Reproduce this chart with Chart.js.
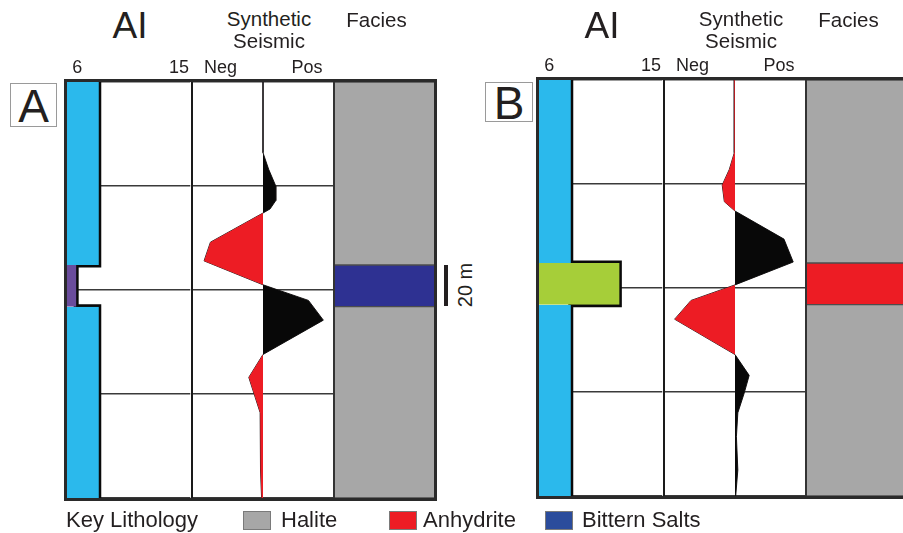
<!DOCTYPE html>
<html>
<head>
<meta charset="utf-8">
<title>AI, synthetic seismic and facies</title>
<script src="https://cdn.jsdelivr.net/npm/chart.js@4.4.1/dist/chart.umd.min.js"></script>
<style>
  html, body { margin: 0; padding: 0; background: #fff; }
  body { width: 903px; height: 533px; position: relative; overflow: hidden;
         font-family: 'Liberation Sans', Arial, sans-serif; color: #231f20; }
  canvas { position: absolute; }
  .frame { position: absolute; box-sizing: border-box; border: 3px solid #2a2a2a; }
  .divider { position: absolute; width: 2px; background: #1a1a1a; }
  .head { position: absolute; line-height: 1; white-space: nowrap; transform: translateX(-50%); text-align: center; }
  .tag { position: absolute; box-sizing: border-box; border: 1px solid #9a9a9a; text-align: center; font-size: 46px; }
  .key { position: absolute; top: 509px; font-size: 22px; line-height: 1; white-space: nowrap; }
  .swatch { position: absolute; top: 511px; width: 28px; height: 19px; box-sizing: border-box; border: 1px solid #7a7a7a; }
</style>
</head>
<body>
<script>
// depth axis (m), tick labels
const depthTicks = [0, 50, 100, 150, 200];
const aiTicks = [6, 15];
const seisTicks = [-0.6, 0.62];
const seisTickLabels = ['Neg', 'Pos'];

// panel A: halite with a bittern salt bed
const layersA = ['Halite', 'Bittern Salts', 'Halite'];
const layerTopA = [0, 88, 108];
const layerBaseA = [88, 108, 200];
const layerAIA = [7.9, 5.9, 7.9];
const seisDepthA = [0, 34, 42, 50, 57, 61, 63, 77, 86, 97.5, 105, 114.5, 131, 142, 159, 170.5, 186.5, 200];
const seisAmpA = [0, 0, 0.08, 0.18, 0.18, 0.1, 0, -0.74, -0.83, 0, 0.64, 0.85, 0, -0.2, -0.04, -0.03, -0.04, -0.02];

// panel B: halite with an anhydrite bed
const layersB = ['Halite', 'Anhydrite', 'Halite'];
const layerTopB = [0, 88, 108];
const layerBaseB = [88, 108, 200];
const layerAIB = [7.9, 12.2, 7.9];
const seisDepthB = [0, 35, 43, 50.5, 58.5, 63, 76.5, 87.5, 98.5, 106, 115, 132, 142, 150.5, 160, 171.5, 187.5, 200];
const seisAmpB = [-0.01, -0.01, -0.08, -0.18, -0.15, 0, 0.69, 0.82, 0, -0.62, -0.85, 0, 0.2, 0.13, 0.04, 0.02, 0.04, 0.01];

const legendItems = ['Halite', 'Anhydrite', 'Bittern Salts'];

// colours
const faciesColors = { 'Halite': '#a7a7a7', 'Anhydrite': '#ed1c24', 'Bittern Salts': '#2e3192' };
const legendColors = { 'Halite': '#a7a7a7', 'Anhydrite': '#ed1c24', 'Bittern Salts': '#2b4c9c' };
const aiFillColors = { 'Halite': '#2bb9ec', 'Anhydrite': '#a6ce39', 'Bittern Salts': '#6a4c9c' };

Chart.defaults.font.family = "'Liberation Sans', Arial, sans-serif";
Chart.defaults.color = '#231f20';
Chart.defaults.animation = false;

const AI_W = 126, SEIS_W = 142, FAC_W = 101, AXIS_H = 31;

const panels = [
  { key: 'A', left: 66, top: 82, height: 416, layers: layersA, tops: layerTopA, bases: layerBaseA, ai: layerAIA, depth: seisDepthA, amp: seisAmpA },
  { key: 'B', left: 538, top: 80, height: 416, layers: layersB, tops: layerTopB, bases: layerBaseB, ai: layerAIB, depth: seisDepthB, amp: seisAmpB }
];

function addEl(tag, cls, css, text) {
  const el = document.createElement(tag);
  if (cls) el.className = cls;
  Object.assign(el.style, css);
  if (text) el.textContent = text;
  document.body.appendChild(el);
  return el;
}

function makeCanvas(left, top, w, h) {
  const c = addEl('canvas', null, { left: left + 'px', top: top + 'px' });
  c.width = w;
  c.height = h;
  return c;
}

function depthAxis(showGrid) {
  return {
    type: 'linear', reverse: true, min: 0, max: 200,
    afterBuildTicks: s => { s.ticks = depthTicks.map(v => ({ value: v })); },
    ticks: { display: false },
    grid: { display: showGrid, color: '#3a3a3a', lineWidth: 1.5, drawTicks: false },
    border: { display: false },
    afterFit: s => { s.width = 0; }
  };
}

function topAxis(min, max, ticks, labels) {
  return {
    type: 'linear', position: 'top', min: min, max: max,
    afterBuildTicks: s => { s.ticks = ticks.map(v => ({ value: v })); },
    ticks: { font: { size: 18 }, padding: 3, autoSkip: false, maxRotation: 0, minRotation: 0,
             callback: (v, i) => labels[i] },
    grid: { display: false, drawTicks: false },
    border: { display: false },
    afterFit: s => { s.height = AXIS_H; }
  };
}

const baseOpts = {
  responsive: false,
  maintainAspectRatio: false,
  devicePixelRatio: 1,
  layout: { padding: 0 },
  plugins: { legend: { display: false }, tooltip: { enabled: false } },
  elements: { point: { radius: 0 } }
};

panels.forEach(p => {
  // AI track: fills coloured by lithology plus the stepped log
  const aiSets = p.layers.map((lith, i) => ({
    data: [{ x: p.ai[i], y: p.tops[i] }, { x: p.ai[i], y: p.bases[i] }],
    fill: 'origin',
    backgroundColor: aiFillColors[lith],
    borderColor: 'transparent',
    borderWidth: 1
  }));
  const logPts = [];
  p.layers.forEach((lith, i) => {
    logPts.push({ x: p.ai[i], y: p.tops[i] });
    logPts.push({ x: p.ai[i], y: p.bases[i] });
  });
  aiSets.push({ data: logPts, fill: false, borderColor: '#0a0a0a', borderWidth: 5,
                borderJoinStyle: 'miter', borderCapStyle: 'butt' });

  new Chart(makeCanvas(p.left, p.top - AXIS_H, AI_W, p.height + AXIS_H), {
    type: 'line',
    data: { datasets: aiSets },
    options: Object.assign({}, baseOpts, {
      indexAxis: 'y',
      scales: { x: topAxis(5, 16, aiTicks, aiTicks.map(String)), y: depthAxis(true) }
    })
  });

  // synthetic seismic: positive lobes black, negative lobes red
  const pos = p.amp.map((a, i) => ({ x: Math.max(a, 0), y: p.depth[i] }));
  const neg = p.amp.map((a, i) => ({ x: Math.min(a, 0), y: p.depth[i] }));
  const trace = p.amp.map((a, i) => ({ x: a, y: p.depth[i] }));
  new Chart(makeCanvas(p.left + AI_W, p.top - AXIS_H, SEIS_W, p.height + AXIS_H), {
    type: 'line',
    data: {
      datasets: [
        { data: pos, fill: 'origin', backgroundColor: '#080808', borderColor: 'transparent', borderWidth: 1 },
        { data: neg, fill: 'origin', backgroundColor: '#ed1c24', borderColor: 'transparent', borderWidth: 1 },
        { data: trace, fill: false, borderColor: '#231f20', borderWidth: 1 }
      ]
    },
    options: Object.assign({}, baseOpts, {
      indexAxis: 'y',
      scales: { x: topAxis(-1, 1, seisTicks, seisTickLabels), y: depthAxis(true) }
    })
  });

  // facies column
  new Chart(makeCanvas(p.left + AI_W + SEIS_W, p.top, FAC_W, p.height), {
    type: 'bar',
    data: {
      labels: ['Facies'],
      datasets: p.layers.map((lith, i) => ({
        data: [p.bases[i] - p.tops[i]],
        backgroundColor: faciesColors[lith],
        borderColor: '#4d4d4d',
        borderWidth: 1,
        borderSkipped: false,
        barPercentage: 1,
        categoryPercentage: 1
      }))
    },
    options: Object.assign({}, baseOpts, {
      scales: {
        x: { stacked: true, display: false },
        y: { stacked: true, reverse: true, min: 0, max: 200, display: false }
      }
    })
  });

  // track dividers and outer frame
  addEl('div', 'divider', { left: (p.left + AI_W - 1) + 'px', top: p.top + 'px', height: p.height + 'px' });
  addEl('div', 'divider', { left: (p.left + AI_W + SEIS_W - 1) + 'px', top: p.top + 'px', height: p.height + 'px', background: '#333' });
  addEl('div', 'frame', { left: (p.left - 2) + 'px', top: (p.top - 3) + 'px',
                          width: (AI_W + SEIS_W + FAC_W + 4) + 'px', height: (p.height + 6) + 'px' });

  // headings
  const cAI = p.left + 64, cSeis = p.left + AI_W + SEIS_W / 2 + 6, cFac = p.left + AI_W + SEIS_W + FAC_W / 2 - 8;
  addEl('div', 'head', { left: cAI + 'px', top: '7px', fontSize: '37px' }, 'AI');
  addEl('div', 'head', { left: cSeis + 'px', top: '8px', fontSize: '20.5px', lineHeight: '22px' }, 'Synthetic');
  addEl('div', 'head', { left: cSeis + 'px', top: '30px', fontSize: '20.5px', lineHeight: '22px' }, 'Seismic');
  addEl('div', 'head', { left: cFac + 'px', top: '10px', fontSize: '20.5px' }, 'Facies');
});

// panel tags
addEl('div', 'tag', { left: '10px', top: '83px', width: '47px', height: '44px', lineHeight: '44px' }, 'A');
addEl('div', 'tag', { left: '485px', top: '82px', width: '48px', height: '40px', lineHeight: '41px' }, 'B');

// 20 m scale bar
addEl('div', null, { position: 'absolute', left: '444px', top: '265px', width: '4px', height: '41px', background: '#231f20' });
addEl('div', null, { position: 'absolute', left: '430px', top: '275px', width: '70px', height: '20px', lineHeight: '20px',
                     fontSize: '20px', textAlign: 'center', whiteSpace: 'nowrap', transform: 'rotate(-90deg)' }, '20 m');

// key
addEl('div', 'key', { left: '66px' }, 'Key Lithology');
const keyPos = [[243, 281], [389, 423], [545, 582]];
legendItems.forEach((lith, i) => {
  addEl('div', 'swatch', { left: keyPos[i][0] + 'px', background: legendColors[lith] });
  addEl('div', 'key', { left: keyPos[i][1] + 'px' }, lith);
});
</script>
</body>
</html>
